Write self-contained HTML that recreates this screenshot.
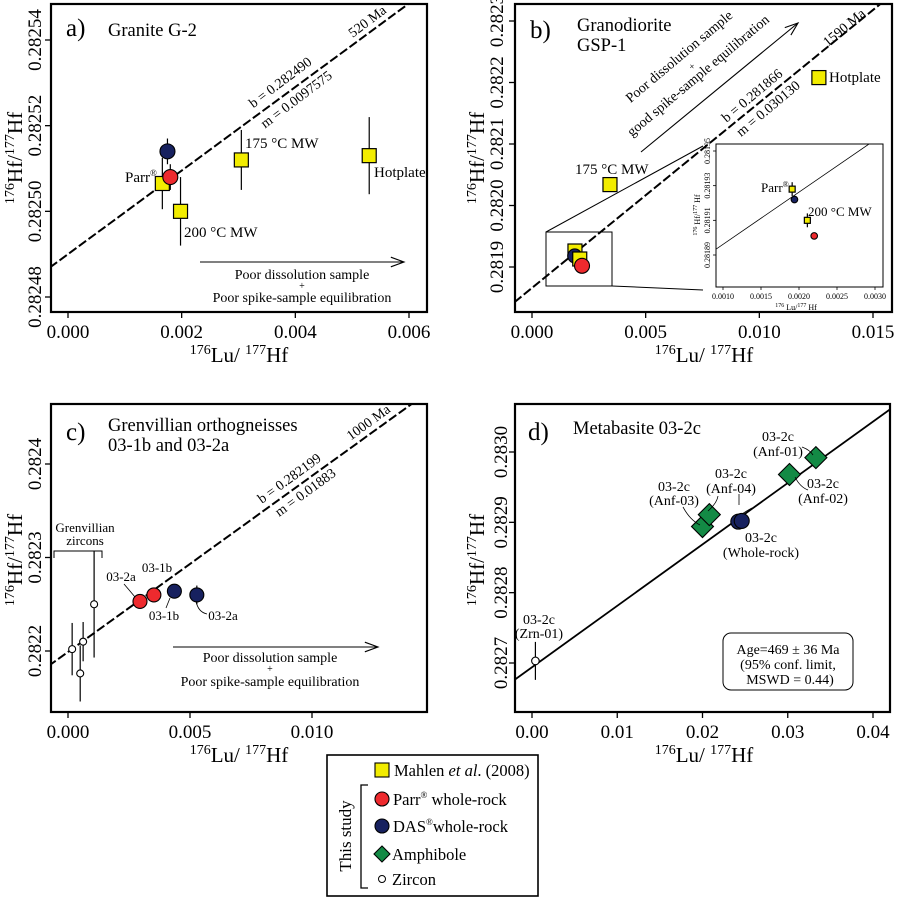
<!DOCTYPE html>
<html><head><meta charset="utf-8"><style>
html,body{margin:0;padding:0;background:#fff}
svg, svg text{font-family:"Liberation Serif","Times New Roman",serif}
</style></head><body>
<svg id="fig" width="897" height="899" viewBox="0 0 897 899" xmlns="http://www.w3.org/2000/svg" font-family="Liberation Serif, serif">
<defs>
<clipPath id="ca"><rect x="51" y="4" width="376" height="308"/></clipPath>
<clipPath id="cb"><rect x="515" y="4" width="377" height="308"/></clipPath>
<clipPath id="ci"><rect x="716" y="144" width="167" height="143"/></clipPath>
<clipPath id="cc"><rect x="51" y="404" width="376" height="308"/></clipPath>
<clipPath id="cd"><rect x="515" y="404" width="375" height="308"/></clipPath>
</defs>
<g id="layer"></g>
</svg>
<script>
// ---------- data ----------
const aTicksX=[0,0.002,0.004,0.006];
const aTickLabelsX=["0.000","0.002","0.004","0.006"];
const aTicksY=[0.28248,0.28250,0.28252,0.28254];
const aTickLabelsY=["0.28248","0.28250","0.28252","0.28254"];
const aSquareX=[0.00166,0.00198,0.00305,0.00530];
const aSquareY=[0.2825065,0.28250,0.282512,0.282513];
const aSquareErr=[0.000006,0.000008,0.000007,0.000009];
const aBlueX=[0.00175];const aBlueY=[0.282514];const aBlueErr=[0.000003];
const aRedX=[0.00180];const aRedY=[0.282508];const aRedErr=[0.000003];
const aIntercept=0.282490, aSlope=0.0097575;
const bTicksX=[0,0.005,0.010,0.015];
const bTickLabelsX=["0.000","0.005","0.010","0.015"];
const bTicksY=[0.2819,0.2820,0.2821,0.2822,0.2823];
const bTickLabelsY=["0.2819","0.2820","0.2821","0.2822","0.2823"];
const bSquareX=[0.01262,0.00343,0.00189,0.0021];
const bSquareY=[0.282208,0.282034,0.281926,0.281913];
const bBlueX=[0.00188];const bBlueY=[0.281918];
const bRedX=[0.0022];const bRedY=[0.281902];
const bIntercept=0.281866, bSlope=0.030130;
const iTicksX=[0.0010,0.0015,0.0020,0.0025,0.0030];
const iTickLabelsX=["0.0010","0.0015","0.0020","0.0025","0.0030"];
const iTicksY=[0.28189,0.28191,0.28193,0.28195];
const iTickLabelsY=["0.28189","0.28191","0.28193","0.28195"];
const iSquareX=[0.00191,0.00211];const iSquareY=[0.281928,0.28191];const iSquareErr=[0.000004,0.000004];
const iBlueX=[0.00194];const iBlueY=[0.281922];const iBlueErr=[0.000002];
const iRedX=[0.0022];const iRedY=[0.281901];const iRedErr=[0.000002];
const cTicksX=[0,0.005,0.010];
const cTickLabelsX=["0.000","0.005","0.010"];
const cTicksY=[0.2822,0.2823,0.2824];
const cTickLabelsY=["0.2822","0.2823","0.2824"];
const cZrnX=[0.00017,0.0005,0.00062,0.00107];
const cZrnY=[0.282202,0.282176,0.28221,0.28225];
const cZrnErr=[0.000028,0.00003,0.000021,0.000057];
const cRedX=[0.00295,0.00352];const cRedY=[0.282253,0.28226];const cRedErr=[0.000006,0.000006];
const cBlueX=[0.00436,0.00528];const cBlueY=[0.282264,0.28226];const cBlueErr=[0.000007,0.00001];
const cIntercept=0.282199, cSlope=0.01883;
const dTicksX=[0,0.01,0.02,0.03,0.04];
const dTickLabelsX=["0.00","0.01","0.02","0.03","0.04"];
const dTicksY=[0.2827,0.2828,0.2829,0.2830];
const dTickLabelsY=["0.2827","0.2828","0.2829","0.2830"];
const dAmphX=[0.0200,0.0208,0.0302,0.0333];
const dAmphY=[0.282894,0.282911,0.282968,0.282992];
const dBlueX=[0.0242,0.0246];const dBlueY=[0.282901,0.282902];const dBlueErr=[0.000006,0.000006];
const dZrnX=[0.0004];const dZrnY=[0.282703];const dZrnErr=[0.000027];
const dIntercept=0.282694, dSlope=0.00873;

// ---------- helpers ----------
const NS="http://www.w3.org/2000/svg";
const root=document.getElementById('layer');
const FF="Liberation Serif, serif";
function lin(d0,d1,r0,r1){return v=>r0+(v-d0)*(r1-r0)/(d1-d0);}
function mk(tag,attrs,parent,txt){const e=document.createElementNS(NS,tag);for(const k in attrs)e.setAttribute(k,attrs[k]);if(tag==='text')e.setAttribute('font-family',FF);if(txt!==undefined)e.textContent=txt;(parent||root).appendChild(e);return e;}
function grp(name,parent){const g=mk('g',{},parent);


return g;}
const YEL="#f2ec00",RED="#ee2a2e",BLUE="#17215f",GRN="#138a45";

function frame(g,x,y,w,h){const r=mk('rect',{x:x,y:y,width:w,height:h,fill:'none',stroke:'#000','stroke-width':2.2},g);

}
function axes(g,sx,sy,tx,tlx,ty,tly,bottom,left,tlY,tlX,fs){
 const ax=grp('x-axis',g);
 tx.forEach((v,i)=>{mk('line',{x1:sx(v),x2:sx(v),y1:bottom,y2:bottom+6,stroke:'#000','stroke-width':1.3},ax);
  const t=mk('text',{x:sx(v),y:tlY,'text-anchor':'middle','font-size':fs},ax,tlx[i]);
  
  });
 const ay=grp('y-axis',g);
 ty.forEach((v,i)=>{mk('line',{x1:left-6,x2:left,y1:sy(v),y2:sy(v),stroke:'#000','stroke-width':1.3},ay);
  const t=mk('text',{x:tlX,y:sy(v),'text-anchor':'middle','font-size':fs,transform:`rotate(-90 ${tlX} ${sy(v)})`},ay,tly[i]);
  
  });
}
function titles(g,xcx,xcy,ycx,ycy,fs,sup){
 const t=mk('text',{x:xcx,y:xcy,'text-anchor':'middle','font-size':fs},g);
 
 
 t.innerHTML=`<tspan font-size="${sup}" dy="-8">176</tspan><tspan dy="8">Lu/ </tspan><tspan font-size="${sup}" dy="-8">177</tspan><tspan dy="8">Hf</tspan>`;
 const u=mk('text',{x:ycx,y:ycy,'text-anchor':'middle','font-size':fs,transform:`rotate(-90 ${ycx} ${ycy})`},g);
 
 
 u.innerHTML=`<tspan font-size="${sup}" dy="-8">176</tspan><tspan dy="8">Hf/</tspan><tspan font-size="${sup}" dy="-8">177</tspan><tspan dy="8">Hf</tspan>`;
}
function refline(g,sx,sy,b,m,x0,x1,clip,dash,w){
 const l=mk('line',{x1:sx(x0),y1:sy(b+m*x0),x2:sx(x1),y2:sy(b+m*x1),stroke:'#000','stroke-width':w||2,'stroke-dasharray':dash||'none','clip-path':`url(#${clip})`},g);
 
 
}
function ebar(g,sx,sy,x,y,e){mk('line',{x1:sx(x),x2:sx(x),y1:sy(y-e),y2:sy(y+e),stroke:'#000','stroke-width':1.2},g);}
function square(g,sx,sy,xs,ys,errs,s,name){xs.forEach((x,i)=>{if(errs)ebar(g,sx,sy,x,ys[i],errs[i]);
 const r=mk('rect',{x:sx(x)-s/2,y:sy(ys[i])-s/2,width:s,height:s,fill:YEL,stroke:'#000','stroke-width':1.2},g);
 
 });}
function circ(g,sx,sy,xs,ys,errs,rad,fill,name){xs.forEach((x,i)=>{if(errs)ebar(g,sx,sy,x,ys[i],errs[i]);
 const c=mk('circle',{cx:sx(x),cy:sy(ys[i]),r:rad,fill:fill,stroke:'#000','stroke-width':1.1},g);
 
 });}
function diam(g,sx,sy,xs,ys,h,name){xs.forEach((x,i)=>{const X=sx(x),Y=sy(ys[i]);
 const p=mk('polygon',{points:`${X},${Y-h} ${X+h},${Y} ${X},${Y+h} ${X-h},${Y}`,fill:GRN,stroke:'#000','stroke-width':1.1},g);
 
 });}
function txt(g,x,y,s,fs,name,extra){const a={x:x,y:y,'font-size':fs};Object.assign(a,extra||{});const t=mk('text',a,g,s);
 
 return t;}
function arrow(g,x1,y1,x2,y2){mk('line',{x1:x1,y1:y1,x2:x2,y2:y2,stroke:'#000','stroke-width':1.1},g);
 const a=Math.atan2(y2-y1,x2-x1),L=14,w=0.35;
 mk('polyline',{points:`${x2-L*Math.cos(a-w)},${y2-L*Math.sin(a-w)} ${x2},${y2} ${x2-L*Math.cos(a+w)},${y2-L*Math.sin(a+w)}`,fill:'none',stroke:'#000','stroke-width':1.1},g);}

// ---------- panel a ----------
{const g=grp('panel-a-granite');
 const sx=lin(0,0.006,68,409), sy=lin(0.28248,0.28254,297,40);
 refline(g,sx,sy,aIntercept,aSlope,-0.001,0.007,'ca','9,3');
 frame(g,51,4,376,308);
 axes(g,sx,sy,aTicksX,aTickLabelsX,aTicksY,aTickLabelsY,312,51,338,41,19);
 titles(g,239,362,22,158,21,14);
 txt(g,66,36,'a)',25,'panel-label');
 txt(g,108,36,'Granite G-2',18.5,'panel-title');
 txt(g,0,0,'b = 0.282490',14,'intercept-label',{'text-anchor':'middle',transform:'translate(283,86) rotate(-37)'});
 txt(g,0,0,'m = 0.0097575',14,'slope-label',{'text-anchor':'middle',transform:'translate(299,103) rotate(-37)'});
 txt(g,0,0,'520 Ma',14,'age-label',{'text-anchor':'middle',transform:'translate(370,25) rotate(-37)'});
 const pts=grp('data-points',g);
 square(pts,sx,sy,aSquareX,aSquareY,aSquareErr,14,'mahlen-square');
 circ(pts,sx,sy,aBlueX,aBlueY,aBlueErr,7.5,BLUE,'das-circle');
 circ(pts,sx,sy,aRedX,aRedY,aRedErr,7.5,RED,'parr-circle');
 txt(g,125,182,'',15,'label-parr').innerHTML='Parr<tspan font-size="9" dy="-6">®</tspan>';
 txt(g,245,148,'175 °C MW',15,'label-175mw');
 txt(g,184,237,'200 °C MW',15,'label-200mw');
 txt(g,374,177,'Hotplate',15,'label-hotplate');
 const ar=grp('dissolution-arrow',g);
 arrow(ar,200,262,404,262);
 txt(ar,302,279,'Poor dissolution sample',14,'arrow-text',{'text-anchor':'middle'});
 txt(ar,302,289,'+',10,'arrow-text-plus',{'text-anchor':'middle'});
 txt(ar,302,302,'Poor spike-sample equilibration',14,'arrow-text',{'text-anchor':'middle'});
}
// ---------- panel b ----------
{const g=grp('panel-b-granodiorite');
 const sx=lin(0,0.015,532,873), sy=lin(0.2819,0.2823,267,21);
 refline(g,sx,sy,bIntercept,bSlope,-0.002,0.02,'cb','9,3');
 frame(g,515,4,377,308);
 axes(g,sx,sy,bTicksX,bTickLabelsX,bTicksY,bTickLabelsY,312,515,338,503,19);
 titles(g,704,362,484,158,21,14);
 txt(g,530,38,'b)',25,'panel-label');
 txt(g,577,31,'Granodiorite',18.5,'panel-title');
 txt(g,577,51,'GSP-1',18.5,'panel-title');
 txt(g,0,0,'b = 0.281866',14,'intercept-label',{'text-anchor':'middle',transform:'translate(755,99) rotate(-40)'});
 txt(g,0,0,'m = 0.030130',14,'slope-label',{'text-anchor':'middle',transform:'translate(771,112) rotate(-40)'});
 txt(g,0,0,'1590 Ma',14,'age-label',{'text-anchor':'middle',transform:'translate(847,31) rotate(-40)'});
 const ar=grp('dissolution-arrow',g);
 arrow(ar,641,152,798,23);
 txt(ar,0,0,'Poor dissolution sample',14,'arrow-text',{'text-anchor':'middle',transform:'translate(682,60) rotate(-40)'});
 txt(ar,0,0,'+',10,'arrow-text-plus',{'text-anchor':'middle',transform:'translate(694,69) rotate(-40)'});
 txt(ar,0,0,'good spike-sample equilibration',14,'arrow-text',{'text-anchor':'middle',transform:'translate(701,79) rotate(-40)'});
 txt(g,575,174,'175 °C MW',15,'label-175mw');
 txt(g,829,82,'Hotplate',15,'label-hotplate');
 const pts=grp('data-points',g);
 square(pts,sx,sy,bSquareX.slice(0,3),bSquareY.slice(0,3),null,14,'mahlen-square');
 circ(pts,sx,sy,bBlueX,bBlueY,null,7,BLUE,'das-circle');
 square(pts,sx,sy,bSquareX.slice(3),bSquareY.slice(3),null,14,'mahlen-square');
 circ(pts,sx,sy,bRedX,bRedY,null,7.5,RED,'parr-circle');
 mk('rect',{x:546,y:232,width:66,height:54,fill:'none',stroke:'#000','stroke-width':1},g);
 mk('line',{x1:546,y1:232,x2:703,y2:146,stroke:'#000','stroke-width':1},g);
 mk('line',{x1:612,y1:286,x2:703,y2:290,stroke:'#000','stroke-width':1},g);
 const ig=grp('inset-plot',g);
 const ix=lin(0.001,0.003,723,875), iy=lin(0.28189,0.28195,255,151);
 mk('rect',{x:716,y:144,width:167,height:143,fill:'#fff',stroke:'none'},ig);
 refline(ig,ix,iy,bIntercept,bSlope,0.0008,0.0032,'ci','none',0.8);
 mk('rect',{x:716,y:144,width:167,height:143,fill:'none',stroke:'#000','stroke-width':1},ig);
 iTicksX.forEach((v,i)=>{mk('line',{x1:ix(v),x2:ix(v),y1:287,y2:290,stroke:'#000','stroke-width':0.8},ig);
  const t=mk('text',{x:ix(v),y:299,'text-anchor':'middle','font-size':8},ig,iTickLabelsX[i]);
  
  });
 iTicksY.forEach((v,i)=>{mk('line',{x1:713,x2:716,y1:iy(v),y2:iy(v),stroke:'#000','stroke-width':0.8},ig);
  const t=mk('text',{x:710,y:iy(v),'text-anchor':'middle','font-size':8,transform:`rotate(-90 710 ${iy(v)})`},ig,iTickLabelsY[i]);
  
  });
 txt(ig,796,310,'',8,'inset-x-title',{'text-anchor':'middle'}).innerHTML='<tspan font-size="6" dy="-3">176</tspan><tspan dy="3"> Lu/</tspan><tspan font-size="6" dy="-3">177</tspan><tspan dy="3"> Hf</tspan>';
 txt(ig,0,0,'',8,'inset-y-title',{'text-anchor':'middle',transform:'translate(700,215) rotate(-90)'}).innerHTML='<tspan font-size="6" dy="-3">176</tspan><tspan dy="3"> Hf/</tspan><tspan font-size="6" dy="-3">177</tspan><tspan dy="3"> Hf</tspan>';
 square(ig,ix,iy,iSquareX,iSquareY,iSquareErr,6,'inset-mahlen-square');
 circ(ig,ix,iy,iBlueX,iBlueY,iBlueErr,3.3,BLUE,'inset-das-circle');
 circ(ig,ix,iy,iRedX,iRedY,iRedErr,3.3,RED,'inset-parr-circle');
 txt(ig,761,192,'',13,'inset-label-parr').innerHTML='Parr<tspan font-size="8" dy="-5">®</tspan>';
 txt(ig,808,216,'200 °C MW',13,'inset-label-200mw');
}
// ---------- panel c ----------
{const g=grp('panel-c-grenvillian');
 const sx=lin(0,0.010,68,312), sy=lin(0.2822,0.2824,651,464);
 refline(g,sx,sy,cIntercept,cSlope,-0.002,0.016,'cc','9,3');
 frame(g,51,404,376,308);
 axes(g,sx,sy,cTicksX,cTickLabelsX,cTicksY,cTickLabelsY,712,51,738,41,19);
 titles(g,239,762,22,560,21,14);
 txt(g,66,440,'c)',25,'panel-label');
 txt(g,108,431,'Grenvillian orthogneisses',18.5,'panel-title');
 txt(g,108,451,'03-1b and 03-2a',18.5,'panel-title');
 txt(g,0,0,'b = 0.282199',14,'intercept-label',{'text-anchor':'middle',transform:'translate(292,482) rotate(-36)'});
 txt(g,0,0,'m = 0.01883',14,'slope-label',{'text-anchor':'middle',transform:'translate(308,496) rotate(-36)'});
 txt(g,0,0,'1000 Ma',14,'age-label',{'text-anchor':'middle',transform:'translate(371,426) rotate(-36)'});
 txt(g,85,532,'Grenvillian',13,'label-grenvillian',{'text-anchor':'middle'});
 txt(g,85,545,'zircons',13,'label-zircons',{'text-anchor':'middle'});
 mk('polyline',{points:'54,558 54,551 102,551 102,558',fill:'none',stroke:'#000','stroke-width':1},g);
 const pts=grp('data-points',g);
 circ(pts,sx,sy,cZrnX,cZrnY,cZrnErr,3.5,'#fff','zircon-circle');
 circ(pts,sx,sy,cRedX,cRedY,cRedErr,7,RED,'parr-circle');
 circ(pts,sx,sy,cBlueX,cBlueY,cBlueErr,7,BLUE,'das-circle');
 txt(g,121,581,'03-2a',13,'label-03-2a',{'text-anchor':'middle'});
 mk('line',{x1:124,y1:584,x2:135,y2:597,stroke:'#000','stroke-width':0.8},g);
 txt(g,157,572,'03-1b',13,'label-03-1b',{'text-anchor':'middle'});
 txt(g,164,620,'03-1b',13,'label-03-1b',{'text-anchor':'middle'});
 mk('line',{x1:170,y1:598,x2:166,y2:608,stroke:'#000','stroke-width':0.8},g);
 txt(g,223,620,'03-2a',13,'label-03-2a',{'text-anchor':'middle'});
 mk('path',{d:'M196,601 Q198,612 207,614',fill:'none',stroke:'#000','stroke-width':0.8},g);
 const ar=grp('dissolution-arrow',g);
 arrow(ar,173,647,378,647);
 txt(ar,270,662,'Poor dissolution sample',14,'arrow-text',{'text-anchor':'middle'});
 txt(ar,270,672,'+',10,'arrow-text-plus',{'text-anchor':'middle'});
 txt(ar,270,686,'Poor spike-sample equilibration',14,'arrow-text',{'text-anchor':'middle'});
}
// ---------- panel d ----------
{const g=grp('panel-d-metabasite');
 const sx=lin(0,0.04,532,873), sy=lin(0.2827,0.2830,663,452);
 refline(g,sx,sy,dIntercept,dSlope,-0.003,0.045,'cd','none',1.8);
 frame(g,515,404,375,308);
 axes(g,sx,sy,dTicksX,dTickLabelsX,dTicksY,dTickLabelsY,712,515,738,507,19);
 titles(g,704,762,484,560,21,14);
 txt(g,528,440,'d)',25,'panel-label');
 txt(g,573,434,'Metabasite 03-2c',18.5,'panel-title');
 const pts=grp('data-points',g);
 circ(pts,sx,sy,dZrnX,dZrnY,dZrnErr,3.8,'#fff','zircon-circle');
 circ(pts,sx,sy,dBlueX,dBlueY,dBlueErr,7.5,BLUE,'das-circle');
 diam(pts,sx,sy,dAmphX,dAmphY,11,'amphibole-diamond');
 const L=[['03-2c',778,441],['(Anf-01)',778,456],['03-2c',823,488],['(Anf-02)',823,503],['03-2c',674,491],['(Anf-03)',674,505],['03-2c',731,478],['(Anf-04)',731,493],['03-2c',761,542],['(Whole-rock)',761,557],['03-2c',539,624],['(Zrn-01)',539,638]];
 L.forEach(l=>txt(g,l[1],l[2],l[0],14,'sample-label',{'text-anchor':'middle'}));
 [['M802,447 Q810,450 813,455'],['M795,477 Q800,487 808,490'],['M683,507 Q690,520 700,525'],['M718,496 Q717,503 708,511'],['M739,494 L739,505'],['M742,514 Q748,510 752,508']].forEach(d=>mk('path',{d:d[0],fill:'none',stroke:'#000','stroke-width':0.8},g));
 const bx=grp('age-box',g);
 mk('rect',{x:723,y:633,width:130,height:57,rx:8,fill:'#fff',stroke:'#000','stroke-width':1},bx);
 txt(bx,788,654,'Age=469 ± 36 Ma',14,'age-text',{'text-anchor':'middle'});
 txt(bx,788,669,'(95% conf. limit,',14,'age-text',{'text-anchor':'middle'});
 txt(bx,790,684,'MSWD = 0.44)',14,'age-text',{'text-anchor':'middle'});
}
// ---------- legend ----------
{const g=grp('legend');
 mk('rect',{x:327,y:755,width:211,height:141,fill:'#fff',stroke:'#000','stroke-width':1.6},g);
 const e1=grp('legend-entry-mahlen',g);
 mk('rect',{x:375,y:763,width:14,height:14,fill:YEL,stroke:'#000','stroke-width':1.1},e1);
 txt(e1,394,776,'',16.5,'legend-text').innerHTML='Mahlen <tspan font-style="italic">et al</tspan>. (2008)';
 const e2=grp('legend-entry-parr',g);
 mk('circle',{cx:382,cy:799,r:7,fill:RED,stroke:'#000','stroke-width':1.1},e2);
 txt(e2,393,805,'',16.5,'legend-text').innerHTML='Parr<tspan font-size="9" dy="-7">®</tspan><tspan dy="7"> whole-rock</tspan>';
 const e3=grp('legend-entry-das',g);
 mk('circle',{cx:382,cy:826,r:7,fill:BLUE,stroke:'#000','stroke-width':1.1},e3);
 txt(e3,393,832,'',16.5,'legend-text').innerHTML='DAS<tspan font-size="9" dy="-7">®</tspan><tspan dy="7">whole-rock</tspan>';
 const e4=grp('legend-entry-amphibole',g);
 mk('polygon',{points:'382,846 390,854 382,862 374,854',fill:GRN,stroke:'#000','stroke-width':1.1},e4);
 txt(e4,392,860,'Amphibole',16.5,'legend-text');
 const e5=grp('legend-entry-zircon',g);
 mk('circle',{cx:382,cy:879,r:3.5,fill:'#fff',stroke:'#000','stroke-width':1},e5);
 txt(e5,392,885,'Zircon',16.5,'legend-text');
 mk('polyline',{points:'368,785 361,785 361,888 368,888',fill:'none',stroke:'#000','stroke-width':1.3},g);
 txt(g,0,0,'This study',17,'this-study-label',{'text-anchor':'middle',transform:'translate(351,836) rotate(-90)'});
}
</script>
</body></html>
